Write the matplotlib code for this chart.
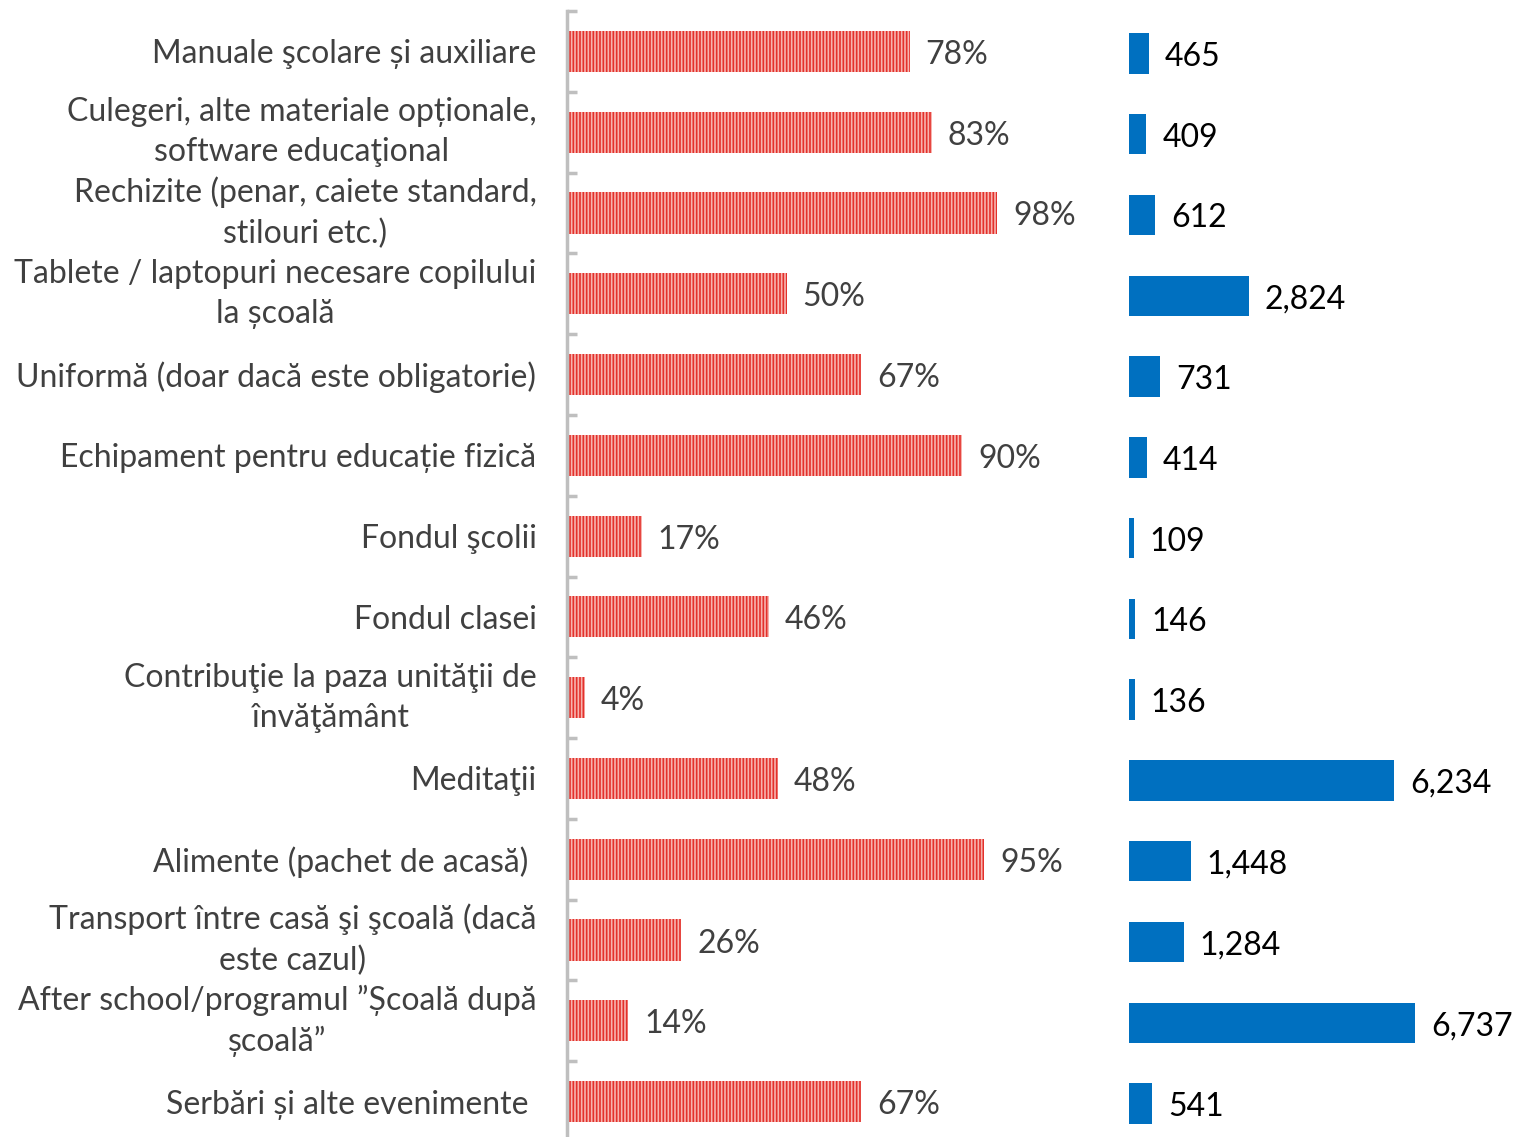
import numpy as np
import matplotlib.pyplot as plt

plt.rcParams['font.family'] = ['Lato', 'DejaVu Sans']
plt.rcParams['hatch.linewidth'] = 1.2

categories = [
    "Manuale şcolare și auxiliare",
    "Culegeri, alte materiale opționale,\nsoftware educaţional",
    "Rechizite (penar, caiete standard,\nstilouri etc.)",
    "Tablete / laptopuri necesare copilului\nla școală",
    "Uniformă (doar dacă este obligatorie)",
    "Echipament pentru educație fizică",
    "Fondul şcolii",
    "Fondul clasei",
    "Contribuţie la paza unităţii de\nînvăţământ",
    "Meditaţii",
    "Alimente (pachet de acasă) ",
    "Transport între casă şi şcoală (dacă\neste cazul)",
    "After school/programul ”Școală după\nșcoală”",
    "Serbări și alte evenimente ",
]
share_pct = [78, 83, 98, 50, 67, 90, 17, 46, 4, 48, 95, 26, 14, 67]
amount = [465, 409, 612, 2824, 731, 414, 109, 146, 136, 6234, 1448, 1284, 6737, 541]

W, H = 1517, 1137
fig = plt.figure(figsize=(W / 100, H / 100), dpi=100)

y = np.arange(len(categories))
grey_txt = '#404040'
fs = 23

# left panel: percentage bars
ax1 = fig.add_axes([567 / W, -5 / H, 527 / W, 1131 / H])
bars = ax1.barh(y, share_pct, height=0.51, color='#e3302b', edgecolor='#f7b3ae',
                linewidth=0, hatch='|||||')
ax1.set_xlim(0, 120)
ax1.set_ylim(len(categories) - 0.5, -0.5)
for b, v in zip(bars, share_pct):
    ax1.annotate(f"{v}%", (b.get_width(), b.get_y() + b.get_height() / 2),
                 xytext=(11.5, -2.5), textcoords='offset points', va='center', ha='left',
                 fontsize=fs, color=grey_txt)
for s in ['top', 'right', 'bottom']:
    ax1.spines[s].set_visible(False)
ax1.spines['left'].set_color('#bfbfbf')
ax1.spines['left'].set_linewidth(2.5)
ax1.set_xticks([])
ax1.set_yticks(y)
ax1.set_yticklabels(categories, fontsize=fs, color=grey_txt, linespacing=1.42)
for t in ax1.get_yticklabels():
    t.set_multialignment('center')
    if '\n' in t.get_text():
        t.set_va('center')
ax1.tick_params(axis='y', which='major', length=0, pad=22)
ax1.set_yticks(np.arange(-0.5, len(categories)), minor=True)
ax1.tick_params(axis='y', which='minor', direction='in', length=7, width=2.5, color='#bfbfbf')

# right panel: amounts
ax2 = fig.add_axes([1129 / W, -7 / H, 340 / W, 1131 / H])
bars2 = ax2.barh(y, amount, height=0.5, color='#0070c0')
ax2.set_xlim(0, 8000)
ax2.set_ylim(len(categories) - 0.5, -0.5)
for b, v in zip(bars2, amount):
    ax2.annotate(f"{v:,}", (b.get_width(), b.get_y() + b.get_height() / 2),
                 xytext=(11.5, -2.5), textcoords='offset points', va='center', ha='left',
                 fontsize=fs, color='#000000')
ax2.axis('off')

fig.savefig('out.png', dpi=100)
